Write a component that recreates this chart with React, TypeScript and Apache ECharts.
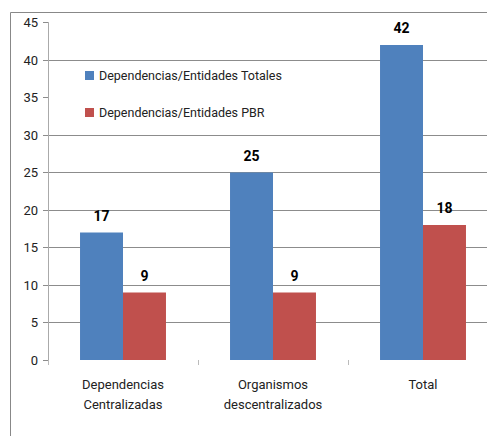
import React, { useEffect, useRef } from "react";
import * as echarts from "echarts";

const categories = ["Dependencias\nCentralizadas", "Organismos\ndescentralizados", "Total"];
const seriesNames = ["Dependencias/Entidades Totales", "Dependencias/Entidades PBR"];
const totales = [17, 25, 42];
const pbr = [9, 9, 18];
const yMin = 0;
const yMax = 45;
const yInterval = 5;

const FONT = "Roboto, 'Open Sans', sans-serif";

export default function App() {
  const ref = useRef<HTMLDivElement>(null);
  useEffect(() => {
    if (!ref.current) return;
    const chart = echarts.init(ref.current, null, { renderer: "svg" });
    const gridColors = [
      "rgba(0,0,0,0)", "#8c8c8c", "#8c8c8c", "#8c8c8c", "#8c8c8c",
      "#8c8c8c", "#8c8c8c", "rgba(0,0,0,0)", "#8c8c8c", "rgba(0,0,0,0)",
    ];
    chart.setOption({
      animation: false,
      backgroundColor: "#ffffff",
      textStyle: { fontFamily: FONT },
      grid: { left: 48, right: 2, top: 22.5, bottom: 76, containLabel: false },
      legend: {
        orient: "vertical",
        left: 80,
        top: 64,
        itemWidth: 9,
        itemHeight: 9,
        itemGap: 24,
        icon: "rect",
        textStyle: { fontFamily: FONT, fontSize: 12.5, color: "#222" },
        data: seriesNames,
      },
      xAxis: {
        type: "category",
        data: categories,
        axisLine: { show: false },
        axisTick: { show: true, length: 5, lineStyle: { color: "#bbb" } },
        axisLabel: {
          fontFamily: FONT,
          fontSize: 13,
          color: "#222",
          lineHeight: 20,
          margin: 14,
        },
      },
      yAxis: {
        type: "value",
        min: yMin,
        max: yMax,
        interval: yInterval,
        axisLine: { show: true, lineStyle: { color: "#aaa" } },
        axisTick: { show: true, length: 5, lineStyle: { color: "#8c8c8c" } },
        axisLabel: { fontFamily: FONT, fontSize: 13, color: "#222", margin: 10 },
        splitLine: { show: true, lineStyle: { color: gridColors, width: 1 } },
      },
      series: [
        {
          name: seriesNames[0],
          type: "bar",
          data: totales,
          barGap: "0%",
          barCategoryGap: "42.7%",
          itemStyle: { color: "#4F81BD" },
          label: {
            show: true,
            position: "top",
            distance: 10,
            fontFamily: FONT,
            fontSize: 14,
            fontWeight: "bold",
            color: "#000",
          },
        },
        {
          name: seriesNames[1],
          type: "bar",
          data: pbr,
          barGap: "0%",
          barCategoryGap: "42.7%",
          itemStyle: { color: "#C0504D" },
          label: {
            show: true,
            position: "top",
            distance: 10,
            fontFamily: FONT,
            fontSize: 14,
            fontWeight: "bold",
            color: "#000",
          },
        },
      ],
      graphic: [
        { type: "line", shape: { x1: 10.5, y1: 12.5, x2: 500, y2: 12.5 }, style: { stroke: "#888", lineWidth: 1 } },
        { type: "line", shape: { x1: 10.5, y1: 12.5, x2: 10.5, y2: 436 }, style: { stroke: "#888", lineWidth: 1 } },
      ],
    });
    return () => chart.dispose();
  }, []);
  return (
    <div
      style={{
        position: "fixed",
        left: 0,
        top: 0,
        width: 487,
        height: 436,
        overflow: "hidden",
        background: "#fff",
      }}
    >
      <div ref={ref} style={{ width: 500, height: 436 }} />
    </div>
  );
}
